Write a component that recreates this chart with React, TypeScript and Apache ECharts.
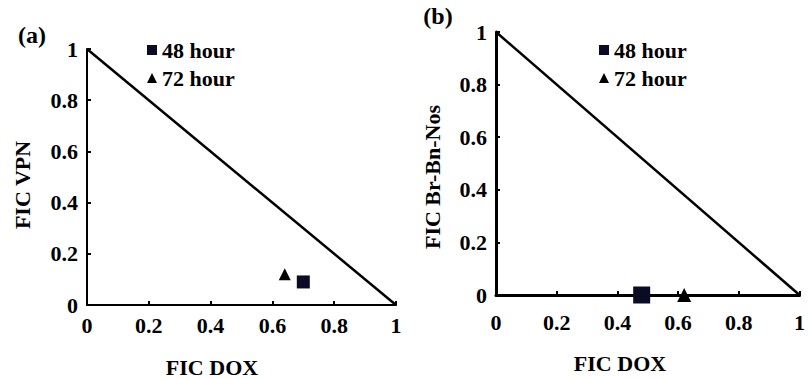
import React, { useEffect, useRef } from "react";
import * as echarts from "echarts";

const seriesNames = ["48 hour", "72 hour"];
const panelA48 = [[0.70, 0.09]];
const panelA72 = [[0.64, 0.12]];
const panelB48 = [[0.48, 0.0]];
const panelB72 = [[0.62, 0.0]];
const additivityLine = [[0, 1], [1, 0]];
const xTitle = "FIC DOX";
const yTitleA = "FIC VPN";
const yTitleB = "FIC Br-Bn-Nos";
const panelLabels = ["(a)", "(b)"];

const FONT = "Liberation Serif";
const INK = "#000";

export default function App() {
  const ref = useRef<HTMLDivElement>(null);
  useEffect(() => {
    if (!ref.current) return;
    const chart = echarts.init(ref.current, undefined, { renderer: "svg" });
    const txt = { fontFamily: FONT, fontWeight: "bold" as const, fontSize: 22, color: INK };
    const mkX = (gridIndex: number, lw: number, margin: number) => ({
      type: "value",
      gridIndex,
      min: 0,
      max: 1,
      interval: 0.2,
      splitLine: { show: false },
      axisLine: { show: true, lineStyle: { color: INK, width: lw } },
      axisTick: { show: true, inside: true, length: 4, lineStyle: { color: INK, width: 2 } },
      axisLabel: { ...txt, margin },
    });
    const mkY = (gridIndex: number, lw: number) => ({
      type: "value",
      gridIndex,
      min: 0,
      max: 1,
      interval: 0.2,
      splitLine: { show: false },
      axisLine: { show: true, lineStyle: { color: INK, width: lw } },
      axisTick: { show: true, inside: true, length: 4, lineStyle: { color: INK, width: 2 } },
      axisLabel: { ...txt, margin: 9 },
    });
    const gtext = (text: string, x: number, y: number, rot = 0, size = 22) => ({
      type: "text",
      x,
      y,
      rotation: rot,
      style: {
        text,
        fill: INK,
        font: `bold ${size}px "${FONT}"`,
        align: "center",
        verticalAlign: "middle",
      },
    });
    const legendBase = {
      orient: "vertical",
      data: seriesNames,
      itemWidth: 10,
      itemHeight: 10,
      itemGap: 2,
      padding: 0,
      selectedMode: false,
      textStyle: { ...txt, lineHeight: 26, padding: [0, 0, 0, 0] },
    };
    const sq = { color: "#0b0b26", opacity: 1 };
    const tri = { color: "#000", opacity: 1 };
    chart.setOption({
      animation: false,
      backgroundColor: "#fff",
      grid: [
        { left: 87, top: 49, width: 309, height: 256 },
        { left: 496, top: 32, width: 312, height: 263 },
      ],
      xAxis: [mkX(0, 2, 9), mkX(1, 3, 16)],
      yAxis: [mkY(0, 2), mkY(1, 3)],
      legend: [
        { ...legendBase, left: 147, top: 37 },
        { ...legendBase, left: 599, top: 37 },
      ],
      graphic: [
        gtext(panelLabels[0], 32, 35, 0, 24),
        gtext(panelLabels[1], 438, 16, 0, 24),
        gtext(xTitle, 212, 367),
        gtext(xTitle, 620, 363),
        gtext(yTitleA, 22, 185, Math.PI / 2),
        gtext(yTitleB, 432, 177, Math.PI / 2),
      ],
      series: [
        {
          type: "line",
          xAxisIndex: 0,
          yAxisIndex: 0,
          data: additivityLine,
          showSymbol: false,
          symbol: "none",
          lineStyle: { color: INK, width: 2.5 },
          silent: true,
        },
        {
          type: "line",
          xAxisIndex: 1,
          yAxisIndex: 1,
          data: additivityLine,
          showSymbol: false,
          symbol: "none",
          lineStyle: { color: INK, width: 2.5 },
          silent: true,
        },
        {
          name: seriesNames[0],
          type: "scatter",
          xAxisIndex: 0,
          yAxisIndex: 0,
          data: panelA48,
          symbol: "rect",
          symbolSize: 13,
          itemStyle: sq,
        },
        {
          name: seriesNames[1],
          type: "scatter",
          xAxisIndex: 0,
          yAxisIndex: 0,
          data: panelA72,
          symbol: "triangle",
          symbolSize: 12,
          itemStyle: tri,
        },
        {
          name: seriesNames[0],
          type: "scatter",
          xAxisIndex: 1,
          yAxisIndex: 1,
          data: panelB48,
          symbol: "rect",
          symbolSize: 17,
          itemStyle: sq,
        },
        {
          name: seriesNames[1],
          type: "scatter",
          xAxisIndex: 1,
          yAxisIndex: 1,
          data: panelB72,
          symbol: "triangle",
          symbolSize: 14,
          itemStyle: tri,
        },
      ],
    });
    return () => chart.dispose();
  }, []);
  return (
    <div
      ref={ref}
      style={{ position: "absolute", left: 0, top: 0, width: 808, height: 379 }}
    />
  );
}
